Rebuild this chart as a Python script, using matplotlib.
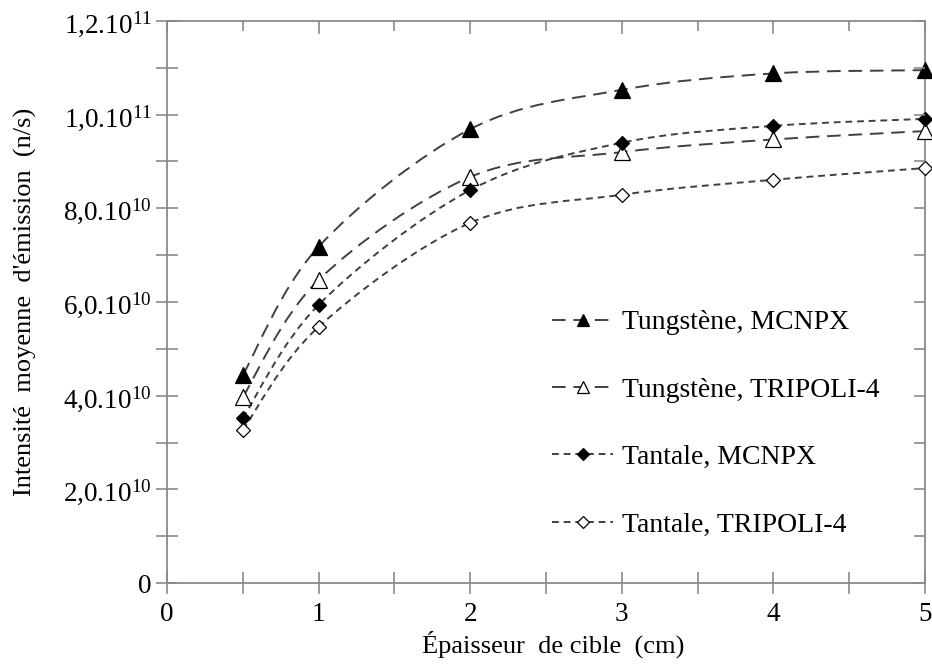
import numpy as np
import matplotlib
matplotlib.use("Agg")
import matplotlib.pyplot as plt
from matplotlib.path import Path
from matplotlib.patches import PathPatch
from matplotlib.ticker import MultipleLocator, FuncFormatter, NullFormatter
from matplotlib.lines import Line2D

plt.rcParams['font.family'] = ['Liberation Serif', 'DejaVu Serif']
plt.rcParams['mathtext.fontset'] = 'custom'
plt.rcParams['mathtext.rm'] = 'Liberation Serif'
plt.rcParams['mathtext.default'] = 'regular'

# ---- data ----
thickness = [0.5, 1, 2, 3, 4, 5]
w_mcnpx = [4.44e10, 7.18e10, 9.69e10, 10.53e10, 10.88e10, 10.95e10]
w_tripoli = [3.97e10, 6.47e10, 8.67e10, 9.20e10, 9.47e10, 9.65e10]
ta_mcnpx = [3.52e10, 5.94e10, 8.39e10, 9.40e10, 9.76e10, 9.91e10]
ta_tripoli = [3.27e10, 5.47e10, 7.69e10, 8.29e10, 8.61e10, 8.86e10]
labels = ["Tungstène, MCNPX", "Tungstène, TRIPOLI-4", "Tantale, MCNPX", "Tantale, TRIPOLI-4"]
y_tick_labels = ["0", "2,0.10$^{10}$", "4,0.10$^{10}$", "6,0.10$^{10}$",
                 "8,0.10$^{10}$", "1,0.10$^{11}$", "1,2.10$^{11}$"]

LC = '#404040'
SPC = '#8a8a8a'
FS_TICK = 19.5
FS_LAB = 19
FS_LEG = 20


def smooth_path(xs, ys):
    """Catmull-Rom style Bezier path through the points (Excel smoothing)."""
    xs = np.asarray(xs, float)
    ys = np.asarray(ys, float)
    n = len(xs)
    verts = [(xs[0], ys[0])]
    codes = [Path.MOVETO]
    for i in range(n - 1):
        i0 = max(i - 1, 0)
        i3 = min(i + 2, n - 1)
        c1 = (xs[i] + (xs[i + 1] - xs[i0]) / 6.0, ys[i] + (ys[i + 1] - ys[i0]) / 6.0)
        c2 = (xs[i + 1] - (xs[i3] - xs[i]) / 6.0, ys[i + 1] - (ys[i3] - ys[i]) / 6.0)
        verts += [c1, c2, (xs[i + 1], ys[i + 1])]
        codes += [Path.CURVE4] * 3
    return Path(verts, codes)


fig = plt.figure(figsize=(9.32, 6.66), dpi=100)
rect = [0.1792, 0.1246, 0.8133, 0.8439]
ax = fig.add_axes(rect)
ax.set_xlim(0, 5)
ax.set_ylim(0, 1.2e11)

series = [
    (w_mcnpx, '^', 'k', (7, 4), 11, 8.5),
    (w_tripoli, '^', 'white', (7, 4), 11, 8.5),
    (ta_mcnpx, 'D', 'k', (3.5, 2.5), 7, 6),
    (ta_tripoli, 'D', 'white', (3.5, 2.5), 7, 6),
]
handles = []
for (vals, mk, fc, dash, ms, lms), lab in zip(series, labels):
    p = PathPatch(smooth_path(thickness, vals), fill=False, edgecolor=LC,
                  lw=1.4, linestyle=(0, dash), zorder=2)
    ax.add_patch(p)
    ax.plot(thickness, vals, linestyle='none', marker=mk, ms=ms, mfc=fc,
            mec='k', mew=0.9, zorder=3, clip_on=False)
    handles.append(Line2D([], [], color=LC, lw=1.4, linestyle=(0, dash),
                          marker=mk, ms=lms, mfc=fc, mec='k', mew=0.9))

ax.legend(handles, labels, loc='upper left', bbox_to_anchor=(0.508, 0.486),
          frameon=False, fontsize=FS_LEG, labelspacing=1.51, handlelength=2.2,
          handletextpad=0.32, borderaxespad=0, borderpad=0)

# spines & ticks (left / bottom, crossing)
for s in ax.spines.values():
    s.set_color(SPC)
    s.set_linewidth(1.3)

ax.yaxis.set_major_locator(MultipleLocator(2e10))
ax.yaxis.set_minor_locator(MultipleLocator(1e10))
ax.xaxis.set_major_locator(MultipleLocator(1))
ax.xaxis.set_minor_locator(MultipleLocator(0.5))


def yfmt(v, p):
    k = int(round(v / 2e10))
    return y_tick_labels[k] if 0 <= k < len(y_tick_labels) else ""


ax.yaxis.set_major_formatter(FuncFormatter(yfmt))
ax.xaxis.set_major_formatter(FuncFormatter(lambda v, p: "%d" % round(v)))

ax.tick_params(axis='both', which='both', direction='inout', length=16,
               color=SPC, width=1.2, labelsize=FS_TICK, top=False, right=False)
ax.tick_params(axis='x', which='both', pad=6)
ax.tick_params(axis='y', which='both', pad=3)

ax.set_xlabel("Épaisseur  de cible  (cm)", fontsize=FS_LAB)
ax.xaxis.set_label_coords(0.51, -0.085)
ax.set_ylabel("Intensité  moyenne  d'émission  (n/s)", fontsize=FS_LAB)
ax.yaxis.set_label_coords(-0.172, 0.5)

# overlay axes for inward top / right ticks
axt = fig.add_axes(rect, frameon=False)
axt.set_xlim(0, 5)
axt.set_ylim(0, 1.2e11)
axt.patch.set_visible(False)
axt.xaxis.set_major_locator(MultipleLocator(1))
axt.xaxis.set_minor_locator(MultipleLocator(0.5))
axt.yaxis.set_major_locator(MultipleLocator(1e10))
axt.xaxis.set_major_formatter(NullFormatter())
axt.yaxis.set_major_formatter(NullFormatter())
axt.tick_params(axis='both', which='both', direction='in', color=SPC, width=1.2,
                top=True, right=True, bottom=False, left=False,
                labeltop=False, labelright=False, labelbottom=False, labelleft=False)
axt.tick_params(axis='x', which='major', length=9)
axt.tick_params(axis='x', which='minor', length=7)
axt.tick_params(axis='y', which='major', length=8)

fig.savefig("out.png", dpi=100, facecolor='white')
